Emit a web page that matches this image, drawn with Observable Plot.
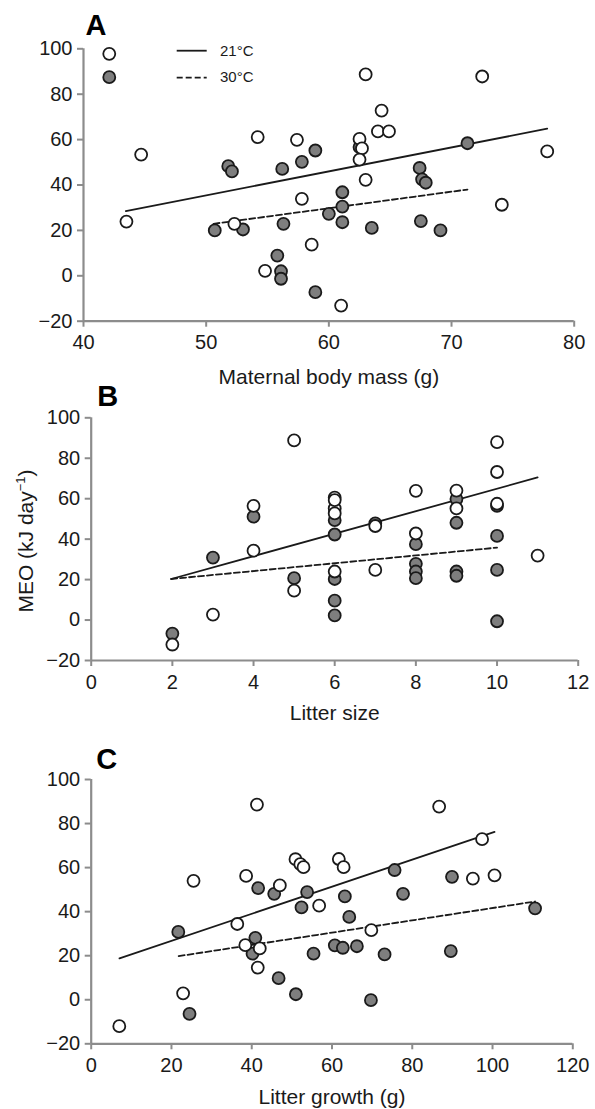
<!DOCTYPE html>
<html><head><meta charset="utf-8">
<script src="https://cdn.jsdelivr.net/npm/d3@7"></script>
<script src="https://cdn.jsdelivr.net/npm/@observablehq/plot@0.6"></script>
<style>
body{margin:0;background:#fff;}
#wrap{position:relative;width:595px;height:1109px;font-family:"Liberation Sans",Arial,sans-serif;}
#wrap svg{position:absolute;left:0;overflow:visible;}
</style></head><body><div id="wrap"></div>
<script>
// ---------- DATA ----------
const yTicks = [-20, 0, 20, 40, 60, 80, 100];
const legendLabels = ["21°C", "30°C"];

// Panel A: maternal body mass (g) vs MEO
const aTicks = [40, 50, 60, 70, 80];
const aOpenX = [42.1, 44.7, 54.2, 57.4, 63.0, 72.5, 64.3, 64.0, 64.9, 62.5, 62.7, 62.5, 77.8, 63.0, 57.8, 74.1, 58.6, 61.0, 43.5, 52.3, 54.8];
const aOpenY = [97.8, 53.4, 61.1, 59.9, 88.7, 87.8, 72.8, 63.6, 63.6, 60.3, 56.1, 51.2, 54.8, 42.3, 33.9, 31.3, 13.7, -13.1, 23.9, 22.9, 2.2];
const aFillX = [42.1, 51.8, 52.1, 56.2, 58.9, 57.8, 62.5, 71.3, 67.4, 67.6, 67.9, 61.1, 61.1, 60.0, 61.1, 56.3, 63.5, 67.5, 69.1, 58.9, 50.7, 53.0, 55.8, 56.1, 56.1];
const aFillY = [87.5, 48.3, 46.0, 47.1, 55.2, 50.2, 56.7, 58.4, 47.5, 42.5, 41.0, 36.8, 30.5, 27.3, 23.6, 22.9, 21.1, 24.1, 20.0, -7.2, 20.0, 20.4, 8.9, 2.0, -1.3];
const aLine21X = [43.45, 77.8], aLine21Y = [28.5, 64.8];
const aLine30X = [50.6, 71.3], aLine30Y = [22.9, 38.0];

// Panel B: litter size vs MEO
const bTicks = [0, 2, 4, 6, 8, 10, 12];
const bOpenX = [5, 4, 10, 10, 10, 8, 8, 9, 9, 6, 6, 6, 6, 7, 3, 2, 4, 5, 7, 11, 6];
const bOpenY = [88.8, 56.5, 88.0, 73.2, 57.5, 63.9, 42.8, 64.0, 55.2, 60.5, 55.2, 52.7, 24.0, 46.5, 2.7, -12.1, 34.3, 14.5, 24.8, 31.9, 59.3];
const bFillX = [4, 10, 10, 10, 10, 9, 9, 6, 6, 7, 3, 2, 5, 6, 6, 6, 8, 8, 8, 8, 9, 9];
const bFillY = [51.1, 56.5, 41.6, 24.8, -0.6, 48.1, 59.8, 49.4, 42.3, 47.8, 30.9, -6.7, 20.7, 20.3, 9.6, 2.3, 37.5, 27.8, 24.0, 20.7, 24.0, 21.9];
const bLine21X = [1.97, 11.0], bLine21Y = [20.3, 70.5];
const bLine30X = [1.97, 10.0], bLine30Y = [20.3, 35.8];

// Panel C: litter growth (g) vs MEO
const cTicks = [0, 20, 40, 60, 80, 100, 120];
const cOpenX = [41.3, 25.5, 38.6, 47.0, 50.9, 52.1, 52.9, 61.7, 62.9, 86.7, 97.4, 95.1, 100.5, 56.8, 36.4, 38.4, 42.0, 41.5, 22.9, 7.0, 69.8];
const cOpenY = [88.6, 54.0, 56.2, 51.9, 63.8, 61.6, 60.2, 63.9, 60.2, 87.7, 72.9, 55.0, 56.5, 42.7, 34.4, 24.8, 23.3, 14.6, 2.9, -12.0, 31.6];
const cFillX = [41.6, 45.6, 75.6, 89.9, 53.8, 63.2, 77.7, 52.4, 110.6, 21.7, 40.9, 40.2, 46.7, 24.5, 51.0, 64.3, 60.7, 62.7, 66.2, 55.4, 73.1, 89.6, 69.7];
const cFillY = [50.7, 48.1, 58.9, 55.8, 48.9, 46.9, 48.1, 41.9, 41.5, 30.8, 28.1, 20.9, 9.8, -6.4, 2.5, 37.6, 24.7, 23.6, 24.3, 20.9, 20.6, 22.1, -0.2];
const cLine21X = [7.05, 100.5], cLine21Y = [18.8, 76.2];
const cLine30X = [21.8, 110.6], cLine30Y = [19.8, 44.6];

// ---------- BUILD ----------
const zip = (xs, ys) => xs.map((x, i) => ({x, y: ys[i]}));
const FONT = "'Liberation Sans', Arial, Helvetica, sans-serif";
const AXIS = "#8c8c8c", INK = "#1a1a1a", GRAY = "#7e7e7e";
const DASH = "6,3";

function panel(cfg) {
  const svg = Plot.plot({
    width: 595, height: cfg.height,
    marginLeft: cfg.mL, marginRight: cfg.mR, marginTop: cfg.mT, marginBottom: cfg.mB,
    style: {fontFamily: FONT, background: "transparent", overflow: "visible"},
    x: {domain: cfg.xDomain},
    y: {domain: [-20, 100]},
    marks: [
      Plot.ruleX([cfg.xDomain[0]], {stroke: AXIS, strokeWidth: 2.2}),
      Plot.ruleY([-20], {stroke: AXIS, strokeWidth: 2.2}),
      Plot.axisY({ticks: yTicks, tickSize: 6, tickPadding: 5, stroke: AXIS, strokeWidth: 2, fill: INK, fontSize: 20, label: null}),
      Plot.axisX({ticks: cfg.xTicks, tickSize: 6, tickPadding: 8, stroke: AXIS, strokeWidth: 2, fill: INK, fontSize: 20, label: null}),
      Plot.line(zip(cfg.l21x, cfg.l21y), {x: "x", y: "y", stroke: INK, strokeWidth: 1.8}),
      Plot.line(zip(cfg.l30x, cfg.l30y), {x: "x", y: "y", stroke: INK, strokeWidth: 1.8, strokeDasharray: DASH}),
      Plot.dot(zip(cfg.fx, cfg.fy), {x: "x", y: "y", r: 6, fill: GRAY, stroke: INK, strokeWidth: 1.8}),
      Plot.dot(zip(cfg.ox, cfg.oy), {x: "x", y: "y", r: 6, fill: "white", stroke: INK, strokeWidth: 1.8}),
      Plot.text([cfg.xLabel], {frameAnchor: "bottom", lineAnchor: "bottom", dy: cfg.labelDy, fontSize: 21, fill: INK}),
      Plot.text([cfg.letter], {frameAnchor: "top-left", textAnchor: "start", lineAnchor: "bottom", dx: cfg.letDx, dy: cfg.letDy, fontSize: 29, fontWeight: "bold", fill: "#000"})
    ]
  });
  svg.style.top = cfg.top + "px";
  document.getElementById("wrap").appendChild(svg);
  return svg;
}

const svgA = panel({top: 0, height: 385, mL: 83, mR: 21.3, mT: 48.3, mB: 64.3, xDomain: [40, 80], xTicks: aTicks,
  ox: aOpenX, oy: aOpenY, fx: aFillX, fy: aFillY, l21x: aLine21X, l21y: aLine21Y, l30x: aLine30X, l30y: aLine30Y,
  xLabel: "Maternal body mass (g)", labelDy: 62.3, letter: "A", letDx: 2, letDy: -14});
const svgB = panel({top: 385, height: 365, mL: 90.7, mR: 17.3, mT: 32.3, mB: 90, xDomain: [0, 12], xTicks: bTicks,
  ox: bOpenX, oy: bOpenY, fx: bFillX, fy: bFillY, l21x: bLine21X, l21y: bLine21Y, l30x: bLine30X, l30y: bLine30Y,
  xLabel: "Litter size", labelDy: 59, letter: "B", letDx: 6, letDy: -12.3});
const svgC = panel({top: 750, height: 359, mL: 90.7, mR: 22.7, mT: 29, mB: 65.7, xDomain: [0, 120], xTicks: cTicks,
  ox: cOpenX, oy: cOpenY, fx: cFillX, fy: cFillY, l21x: cLine21X, l21y: cLine21Y, l30x: cLine30X, l30y: cLine30Y,
  xLabel: "Litter growth (g)", labelDy: 59.7, letter: "C", letDx: 5, letDy: -11});

// Legend in panel A
const gA = d3.select(svgA).append("g").attr("font-family", FONT).attr("font-size", 15)
  .attr("fill", INK).attr("text-anchor", "start");
[[50.7, null, legendLabels[0], 56], [77.7, DASH, legendLabels[1], 82]].forEach(([ly, dash, txt, by]) => {
  gA.append("line").attr("x1", 176.7).attr("x2", 206.7).attr("y1", ly).attr("y2", ly)
    .attr("stroke", INK).attr("stroke-width", 1.8).attr("stroke-dasharray", dash);
  gA.append("text").attr("x", 220).attr("y", by).attr("text-anchor", "start").text(txt);
});

// Y axis label on panel B
const yl = d3.select(svgB).append("text")
  .attr("transform", "translate(33,156) rotate(-90)")
  .attr("text-anchor", "middle").attr("font-family", FONT).attr("font-size", 21).attr("fill", INK);
yl.append("tspan").text("MEO (kJ day");
yl.append("tspan").attr("dy", -8).attr("font-size", 13).text("−1");
yl.append("tspan").attr("dy", 8).text(")");
</script></body></html>
